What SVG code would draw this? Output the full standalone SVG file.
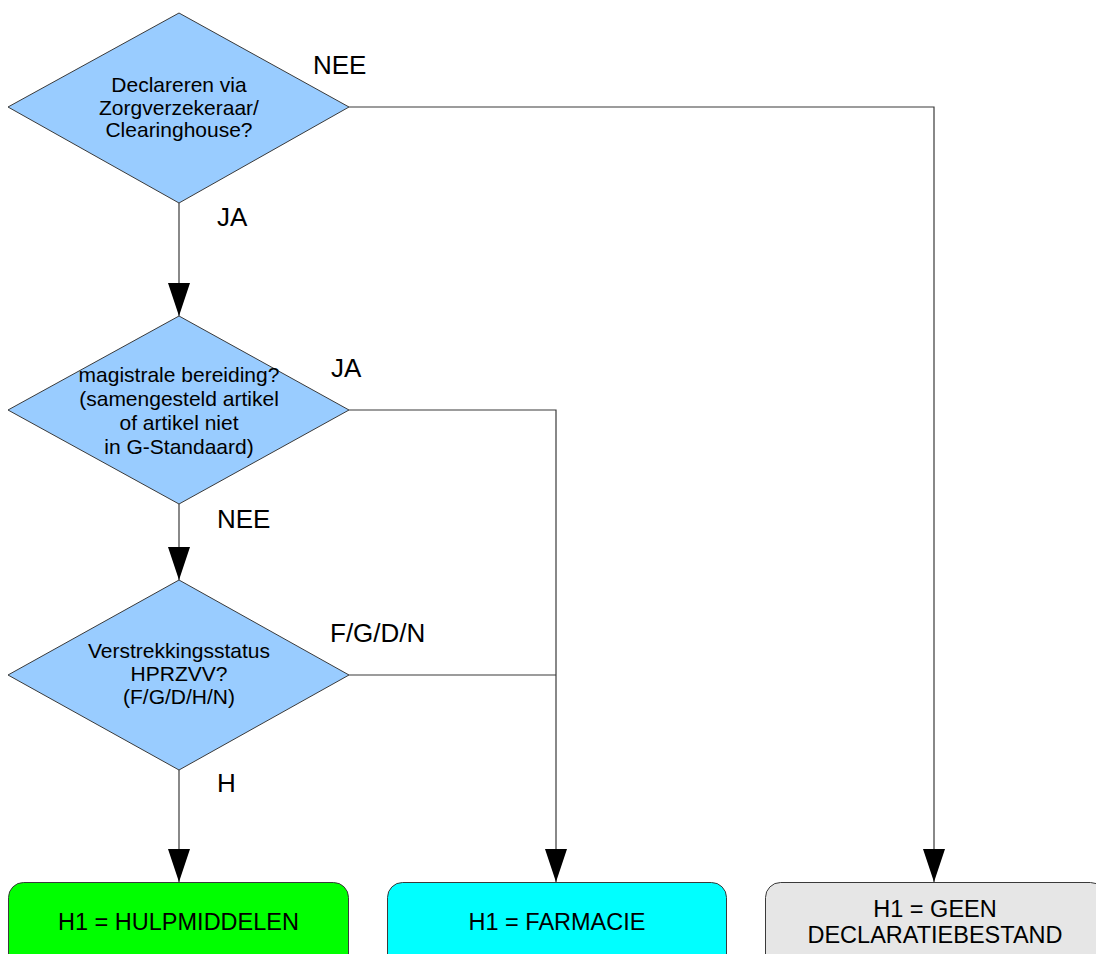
<svg xmlns="http://www.w3.org/2000/svg" width="1096" height="954" viewBox="0 0 1096 954">
<style>
.dec{fill:#99ccff;stroke:#3a3a3a;stroke-width:1}
.box{stroke:#3a3a3a;stroke-width:1}
.t{font-family:"Liberation Sans",Arial,sans-serif;fill:#000;text-anchor:middle}
.nt{font-size:21px}
.bt{font-size:23.5px}
.lbl{font-family:"Liberation Sans",Arial,sans-serif;font-size:26px;fill:#000}
.con{fill:none;stroke:#3a3a3a;stroke-width:1.2}
</style>
<defs>
<marker id="arr" markerUnits="userSpaceOnUse" viewBox="0 0 33 22" markerWidth="33" markerHeight="22" refX="33" refY="11" orient="auto">
<path d="M0,0 L33,11 L0,22 z" fill="#000"/>
</marker>
</defs>
<rect width="1096" height="954" fill="#fff"/>
<g id="connectors">
<path class="con" d="M179,203 L179,316" marker-end="url(#arr)"/>
<path class="con" d="M349,107 L934,107 L934,882" marker-end="url(#arr)"/>
<path class="con" d="M349,410 L556,410 L556,882" marker-end="url(#arr)"/>
<path class="con" d="M349,675 L556,675"/>
<path class="con" d="M179,504 L179,580" marker-end="url(#arr)"/>
<path class="con" d="M179,770 L179,882" marker-end="url(#arr)"/>
</g>
<g id="labels">
<text class="lbl" x="313" y="74">NEE</text>
<text class="lbl" x="217" y="226">JA</text>
<text class="lbl" x="331" y="377">JA</text>
<text class="lbl" x="217" y="528">NEE</text>
<text class="lbl" x="330" y="642">F/G/D/N</text>
<text class="lbl" x="217" y="792">H</text>
</g>
<g id="d1">
<polygon class="dec" points="179,13 349,107 179,203 8,107"/>
<text class="t nt" x="179" y="92">Declareren via</text>
<text class="t nt" x="179" y="115">Zorgverzekeraar/</text>
<text class="t nt" x="179" y="137">Clearinghouse?</text>
</g>
<g id="d2">
<polygon class="dec" points="179,316 349,410 179,504 8,410"/>
<text class="t nt" x="179" y="382">magistrale bereiding?</text>
<text class="t nt" x="179" y="406">(samengesteld artikel</text>
<text class="t nt" x="179" y="430">of artikel niet</text>
<text class="t nt" x="179" y="454">in G-Standaard)</text>
</g>
<g id="d3">
<polygon class="dec" points="179,580 349,675 179,770 8,675"/>
<text class="t nt" x="179" y="658">Verstrekkingsstatus</text>
<text class="t nt" x="179" y="681">HPRZVV?</text>
<text class="t nt" x="179" y="704">(F/G/D/H/N)</text>
</g>
<g id="hulpmiddelen">
<rect class="box" x="8.5" y="882.5" width="340" height="90" rx="15" fill="#00ff00"/>
<text class="t bt" x="178.5" y="930">H1 = HULPMIDDELEN</text>
</g>
<g id="farmacie">
<rect class="box" x="387.5" y="882.5" width="339" height="90" rx="15" fill="#00ffff"/>
<text class="t bt" x="557" y="930">H1 = FARMACIE</text>
</g>
<g id="geen">
<rect class="box" x="765.5" y="882.5" width="340" height="90" rx="15" fill="#e6e6e6"/>
<text class="t bt" x="935" y="917">H1 = GEEN</text>
<text class="t bt" x="935" y="943">DECLARATIEBESTAND</text>
</g>
</svg>
